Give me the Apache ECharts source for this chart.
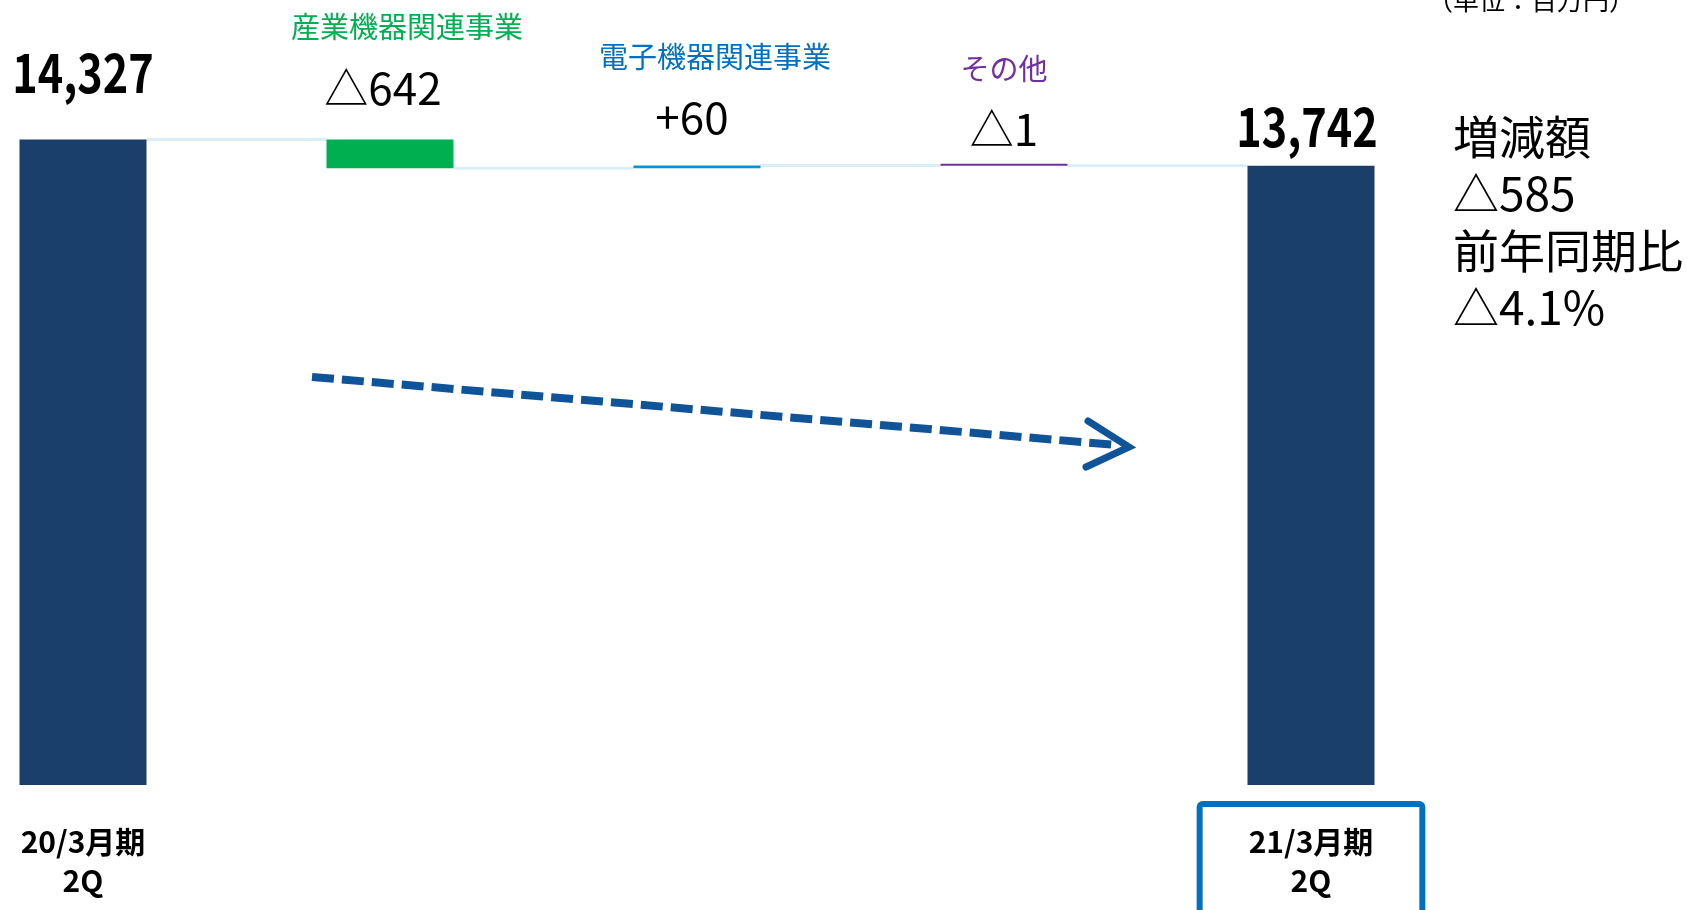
<!DOCTYPE html>
<html>
<head>
<meta charset="utf-8">
<script src="https://cdn.jsdelivr.net/npm/echarts@6/dist/echarts.min.js"></script>
<style>
  html, body { margin: 0; padding: 0; background: #ffffff; }
  #chart { width: 1693px; height: 910px; }
</style>
</head>
<body>
<div id="chart"></div>
<script>
// 売上高の増減要因（単位：百万円）
const periods = ['20/3月期\n2Q', '21/3月期\n2Q'];
const totals = [14327, 13742];
const segments = ['産業機器関連事業', '電子機器関連事業', 'その他'];
const deltas = [-642, 60, -1];
const unitText = '（単位：百万円）';
const summaryTitles = ['増減額', '前年同期比'];

// ---- styling ----
const JP = '"Noto Sans CJK JP", "Noto Sans CJK SC", sans-serif';
const totalColor = '#1B3F6B';
const segBarColors = ['#00B050', '#0096D6', '#7030A0'];
const segTextColors = ['#00B050', '#0070C0', '#7030A0'];
const connectorColor = '#DAEEF8';
const barWidth = 127;
// per-segment label placement (distance above bar, horizontal nudges)
const segLabelLayout = [
  { distance: 26, nameShift: 17, valueShift: -7 },
  { distance: 23, nameShift: 18, valueShift: -5 },
  { distance: 9, nameShift: 0, valueShift: 0 }
];
// totals are printed in a condensed bold face above their bars
const totalLabelStyle = { gaps: [40, 12], fontSize: 54, scaleX: 0.8, dx: [0, -4] };

// ---- derived waterfall values ----
const categories = [periods[0], ...segments, periods[1]];
const lastIdx = categories.length - 1;
const levels = [totals[0]];
deltas.forEach(d => levels.push(levels[levels.length - 1] + d));
const baseData = [0];
const heightData = [totals[0]];
deltas.forEach((d, i) => {
  baseData.push(d < 0 ? levels[i + 1] : levels[i]);
  heightData.push(Math.abs(d));
});
baseData.push(0);
heightData.push(totals[1]);

const fmtDelta = d => (d < 0 ? '△' : '+') + Math.abs(d).toLocaleString('en-US');
const diff = totals[1] - totals[0];
const pct = Math.abs(diff) / totals[0] * 100;
const summaryText = [
  summaryTitles[0],
  (diff < 0 ? '△' : '+') + Math.abs(diff).toLocaleString('en-US'),
  summaryTitles[1],
  (diff < 0 ? '△' : '+') + pct.toFixed(1) + '%'
].join('\n');

const valueItems = heightData.map((v, i) => {
  if (i === 0 || i === lastIdx) {
    return { value: v, itemStyle: { color: totalColor }, label: { show: false } };
  }
  const s = i - 1;
  const lay = segLabelLayout[s];
  return {
    value: v,
    itemStyle: { color: segBarColors[s] },
    label: {
      show: true,
      position: 'top',
      distance: lay.distance,
      formatter: '{n|' + segments[s] + '}\n{v|' + fmtDelta(deltas[s]) + '}',
      rich: {
        n: {
          fontFamily: JP, fontSize: 29, lineHeight: 72, color: segTextColors[s],
          padding: [0, 0, 0, lay.nameShift * 2]
        },
        v: {
          fontFamily: JP, fontSize: 44, lineHeight: 50, color: '#000',
          padding: [0, -lay.valueShift * 2, 0, 0]
        }
      }
    }
  };
});

const axisData = categories.map((c, i) => {
  if (i === lastIdx) {
    return {
      value: c,
      textStyle: {
        borderColor: '#0070C0',
        borderWidth: 6,
        borderRadius: 3,
        padding: [18, 49, 34, 49]
      }
    };
  }
  return c;
});

const connectorData = levels.map((lv, i) => [i, lv]);
const totalLabelData = [[0, totals[0], 0], [lastIdx, totals[1], 1]];

const chart = echarts.init(document.getElementById('chart'), null, { renderer: 'canvas' });
chart.setOption({
  animation: false,
  backgroundColor: '#ffffff',
  grid: { left: 83, right: 382, top: 64, bottom: 125, containLabel: false, outerBoundsMode: 'none' },
  xAxis: {
    type: 'category',
    data: axisData,
    boundaryGap: false,
    axisLine: { show: false },
    axisTick: { show: false },
    splitLine: { show: false },
    axisLabel: {
      interval: 0,
      margin: 19,
      padding: [18, 0, 0, 0],
      fontFamily: JP,
      fontWeight: 'bold',
      fontSize: 30,
      lineHeight: 39,
      color: '#000',
      formatter: (val, idx) => (idx === 0 || idx === lastIdx) ? val : ''
    }
  },
  yAxis: {
    type: 'value',
    min: 0,
    max: 16000,
    show: false,
    splitLine: { show: false }
  },
  series: [
    {
      type: 'custom',
      name: 'connector',
      z: 1,
      silent: true,
      encode: { x: 0, y: 1 },
      data: connectorData.slice(0, lastIdx),
      renderItem: (params, api) => {
        const i = api.value(0);
        const lv = api.value(1);
        const a = api.coord([i, lv]);
        const b = api.coord([i + 1, lv]);
        return {
          type: 'line',
          shape: { x1: a[0] + barWidth / 2, y1: a[1], x2: b[0] - barWidth / 2, y2: a[1] },
          style: { stroke: connectorColor, lineWidth: 3 }
        };
      }
    },
    {
      type: 'bar',
      name: 'base',
      stack: 'wf',
      barWidth: barWidth,
      clip: false,
      silent: true,
      z: 2,
      itemStyle: { color: 'rgba(0,0,0,0)' },
      emphasis: { disabled: true },
      data: baseData
    },
    {
      type: 'bar',
      name: 'value',
      stack: 'wf',
      barWidth: barWidth,
      barMinHeight: 2,
      clip: false,
      z: 3,
      emphasis: { disabled: true },
      data: valueItems
    },
    {
      type: 'custom',
      name: 'totalLabels',
      z: 4,
      silent: true,
      encode: { x: 0, y: 1 },
      data: totalLabelData,
      renderItem: (params, api) => {
        const t = api.value(2);
        const p = api.coord([api.value(0), api.value(1)]);
        return {
          type: 'text',
          x: p[0] + totalLabelStyle.dx[t],
          y: p[1] - totalLabelStyle.gaps[t],
          scaleX: totalLabelStyle.scaleX,
          style: {
            text: totals[t].toLocaleString('en-US'),
            font: 'bold ' + totalLabelStyle.fontSize + 'px ' + JP,
            fill: '#000',
            align: 'center',
            verticalAlign: 'bottom'
          }
        };
      }
    }
  ],
  graphic: [
    {
      type: 'text',
      left: 1427,
      top: -13,
      style: { text: unitText, font: '26px ' + JP, fill: '#000' }
    },
    {
      type: 'text',
      x: 1453,
      y: 108,
      style: { text: summaryText, font: '46px ' + JP, fill: '#000', lineHeight: 57, verticalAlign: 'top' }
    },
    {
      type: 'polyline',
      shape: { points: [[312, 377], [1117, 445]] },
      style: { stroke: '#0F5499', lineWidth: 8, lineDash: [22, 8], fill: null }
    },
    {
      type: 'polyline',
      shape: { points: [[1088, 421], [1129, 447], [1086, 467]] },
      style: { stroke: '#0F5499', lineWidth: 7, fill: null, lineCap: 'round', lineJoin: 'miter' }
    }
  ]
});
</script>
</body>
</html>
